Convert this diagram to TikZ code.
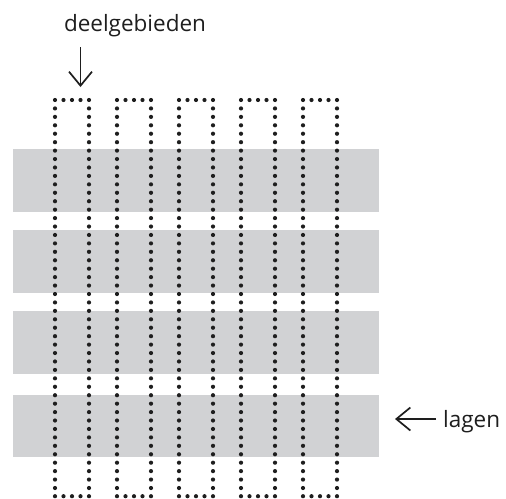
\documentclass[tikz,border=0pt]{standalone}
\usepackage{fontspec}
\setmainfont{Open Sans}
\usetikzlibrary{arrows.meta}
\definecolor{bandgray}{RGB}{209,210,212}
\definecolor{inkblack}{RGB}{30,30,30}
\tikzset{
  band/.style={fill=bandgray},
  dotmark/.style={fill=inkblack},
  pointer/.style={draw=inkblack, line width=1.7pt, -{Straight Barb[length=14pt,width=23pt]}},
  label/.style={font=\fontsize{22.5}{26}\selectfont, text=inkblack, inner sep=0pt}
}
\begin{document}
\begin{tikzpicture}[x=1pt,y=-1pt]
\useasboundingbox (0,0) rectangle (506,498);
% bands (lagen)
\foreach \t/\b [count=\i] in {149/212, 230/293, 311/374, 395/457}{
  \fill[band] (13,\t) rectangle (379,\b);
}
% dotted columns (deelgebieden)
\foreach \xl in {55,117,179,241,303}{
  \foreach \k in {0,...,4}{
    \fill[dotmark] (\xl+\k*8.5,100) circle (2.1);
    \fill[dotmark] (\xl+\k*8.5,496.2) circle (2.1);
  }
  \foreach \k in {1,...,46}{
    \fill[dotmark] (\xl,100+\k*8.4348) circle (2.1);
    \fill[dotmark] (\xl+34,100+\k*8.4348) circle (2.1);
  }
}
% labels
\node[label, anchor=base] (deel) at (135,31) {deelgebieden};
\coordinate (deelS) at (80.5,47);
\coordinate (deelE) at (80.5,87);
\draw[pointer] (deelS) -- (deelE);
\node[label, anchor=base west] (lagen) at (443,427) {lagen};
\coordinate (lagS) at (436,419);
\coordinate (lagE) at (395,419);
\draw[pointer] (lagS) -- (lagE);
\end{tikzpicture}
\end{document}
